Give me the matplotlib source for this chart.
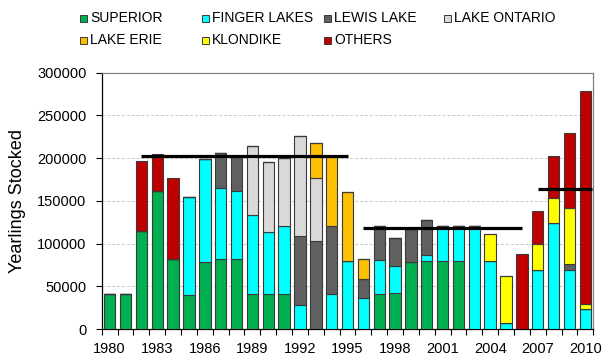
import matplotlib
matplotlib.use("Agg")
import matplotlib.pyplot as plt
import numpy as np
from matplotlib.patches import Rectangle

plt.rcParams['font.family'] = ['Liberation Sans', 'DejaVu Sans']

years = list(range(1980, 2011))

# yearlings stocked per strain, 1980-2010
superior = [41000, 41000, 115000, 162000, 82000, 40000, 78000, 82000, 82000, 41000,
            41000, 41000, 0, 0, 0, 0, 0, 41000, 42000, 78000,
            80000, 80000, 80000, 0, 0, 0, 0, 0, 0, 0, 0]
finger_lakes = [0, 0, 0, 0, 0, 114000, 121000, 83000, 80000, 93000,
                72000, 79000, 28000, 0, 41000, 80000, 36000, 40000, 32000, 0,
                7000, 40000, 40000, 120000, 80000, 7000, 0, 69000, 124000, 69000, 23000]
lewis_lake = [0, 0, 0, 0, 0, 0, 0, 41000, 40000, 0,
              0, 0, 81000, 103000, 80000, 0, 23000, 40000, 33000, 39000,
              41000, 0, 0, 0, 0, 0, 0, 0, 0, 7000, 0]
lake_ontario = [0, 0, 0, 0, 0, 0, 0, 0, 0, 80000,
                82000, 80000, 117000, 74000, 0, 0, 0, 0, 0, 0,
                0, 0, 0, 0, 0, 0, 0, 0, 0, 0, 0]
lake_erie = [0, 0, 0, 0, 0, 0, 0, 0, 0, 0,
             0, 0, 0, 41000, 80000, 80000, 23000, 0, 0, 0,
             0, 0, 0, 0, 0, 0, 0, 0, 0, 0, 0]
klondike = [0, 0, 0, 0, 0, 0, 0, 0, 0, 0,
            0, 0, 0, 0, 0, 0, 0, 0, 0, 0,
            0, 0, 0, 0, 31000, 55000, 0, 30000, 29000, 66000, 6000]
others = [0, 0, 82000, 43000, 95000, 0, 0, 0, 0, 0,
          0, 0, 0, 0, 0, 0, 0, 0, 0, 0,
          0, 0, 0, 0, 0, 0, 88000, 39000, 50000, 88000, 249000]

series = [
    ("SUPERIOR", superior, "#00B050"),
    ("FINGER LAKES", finger_lakes, "#00FFFF"),
    ("LEWIS LAKE", lewis_lake, "#606060"),
    ("LAKE ONTARIO", lake_ontario, "#D9D9D9"),
    ("LAKE ERIE", lake_erie, "#FFC000"),
    ("KLONDIKE", klondike, "#FFFF00"),
    ("OTHERS", others, "#C00000"),
]

# period averages
avg_start = [1982, 1996, 2007]
avg_end = [1995, 2006, 2010.4]
avg_value = [202000, 118000, 164000]

fig = plt.figure(figsize=(6.02, 3.56), dpi=100)
ax = fig.add_axes([0.169, 0.0758, 0.8165, 0.72])

x = np.array(years)
bottom = np.zeros(len(years))
for name, vals, col in series:
    vals = np.array(vals, dtype=float)
    ax.bar(x, vals, 0.72, bottom=bottom, color=col, edgecolor="#3a3a3a",
           linewidth=0.8, zorder=3)
    bottom += vals

for s, e, v in zip(avg_start, avg_end, avg_value):
    ax.plot([s, e], [v, v], color="black", linewidth=2.3, zorder=4,
            solid_capstyle="butt")

ax.set_xlim(1979.5, 2010.5)
ax.set_ylim(0, 300000)
ax.set_yticks(range(0, 300001, 50000))
ax.set_xticks(range(1980, 2011, 3))
ax.set_xticks(np.arange(1979.5, 2011, 1), minor=True)
ax.tick_params(axis="x", which="major", length=0, labelsize=10.5, pad=9)
ax.tick_params(axis="x", which="minor", length=4, width=0.8, color="black")
ax.tick_params(axis="y", length=4, width=0.8, labelsize=10.5, pad=7)
ax.yaxis.grid(True, color="#C8C8C8", linestyle=(0, (3, 2)), linewidth=0.7, zorder=0)

ax.spines["left"].set_color("black")
ax.spines["bottom"].set_color("black")
ax.spines["top"].set_color("#808080")
ax.spines["right"].set_color("#808080")
for sp in ax.spines.values():
    sp.set_linewidth(0.9)

ax.set_ylabel("Yearlings Stocked", fontsize=13, labelpad=8)

# legend laid out in two rows like the original sheet
leg_x = [83, 205, 327, 447]
leg_y = [18, 40]
W, H = 602, 356
for i, (name, vals, col) in enumerate(series):
    r, c = divmod(i, 4)
    cx, cy = leg_x[c], leg_y[r]
    fig.add_artist(Rectangle(((cx - 3.5) / W, 1 - (cy + 3.5) / H), 7 / W, 7 / H,
                             transform=fig.transFigure, facecolor=col,
                             edgecolor="#3a3a3a", linewidth=0.7))
    fig.text((cx + 7) / W, 1 - cy / H, name, fontsize=10, va="center", ha="left")

fig.savefig("out.png", dpi=100, facecolor="white")
